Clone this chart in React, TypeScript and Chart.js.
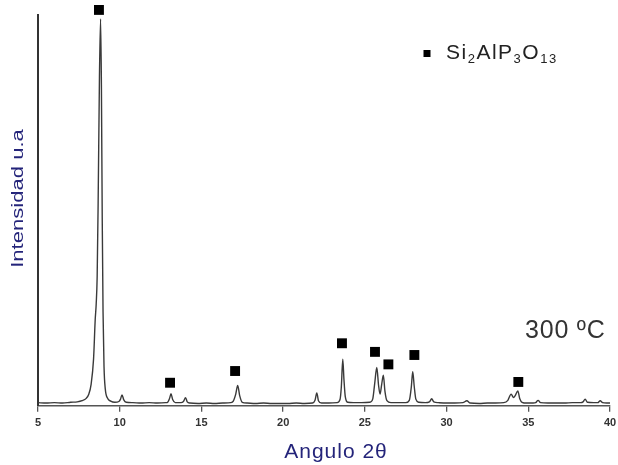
import React, { useEffect, useRef } from "react";
import { Chart, registerables } from "chart.js";

Chart.register(...registerables);

// 2θ angles of the diffractogram trace
const angles = [
  5.0, 5.5, 6.0, 6.5, 7.0, 7.4, 7.7, 7.95, 8.1, 8.25,
  8.4, 8.5, 8.56, 8.62, 8.68, 8.76, 8.83, 8.88, 8.93, 8.98,
  9.04, 9.12, 9.25, 9.45, 9.7, 9.95, 10.05, 10.14, 10.25, 10.4,
  10.8, 11.3, 11.8, 12.3, 12.8, 12.95, 13.05, 13.14, 13.24, 13.4,
  13.75, 13.9, 14.03, 14.13, 14.3, 14.8, 15.3, 15.8, 16.3, 16.8,
  16.95, 17.1, 17.22, 17.34, 17.5, 17.8, 18.3, 18.8, 19.3, 19.8,
  20.3, 20.8, 21.3, 21.8, 21.95, 22.06, 22.16, 22.35, 22.8, 23.3,
  23.48, 23.56, 23.65, 23.72, 23.8, 23.95, 24.3, 24.8, 25.3, 25.48,
  25.6, 25.73, 25.84, 25.93, 26.03, 26.13, 26.23, 26.35, 26.6, 27.0,
  27.5, 27.72, 27.84, 27.93, 28.02, 28.12, 28.3, 28.7, 28.95, 29.09,
  29.22, 29.5, 30.0, 30.5, 31.0, 31.24, 31.45, 32.0, 32.5, 33.0,
  33.5, 33.75, 33.95, 34.1, 34.2, 34.36, 34.48, 34.62, 34.9, 35.3,
  35.45, 35.6, 35.75, 36.2, 36.7, 37.2, 37.7, 38.2, 38.35, 38.48,
  38.62, 39.0, 39.25, 39.4, 39.55, 39.8, 40.0,
];

// intensity (arbitrary units) at each angle
const intensity = [
  0.8, 0.7, 0.8, 0.7, 0.9, 1.0, 1.3, 1.9, 2.9, 5.5,
  12, 22, 26, 33, 52, 84, 99, 82, 48, 24,
  10, 4.2, 2.0, 1.2, 0.9, 1.1, 1.7, 2.8, 1.5, 0.9,
  0.8, 0.7, 0.8, 0.7, 0.8, 1.0, 1.9, 3.1, 1.6, 0.8,
  0.8, 1.1, 2.1, 1.0, 0.7, 0.6, 0.7, 0.6, 0.7, 0.8,
  1.2, 3.0, 5.2, 2.6, 0.9, 0.7, 0.6, 0.7, 0.6, 0.6,
  0.6, 0.7, 0.6, 0.7, 1.4, 3.3, 1.3, 0.7, 0.7, 0.8,
  1.6, 4.8, 11.9, 6.8, 2.4, 0.9, 0.8, 0.8, 0.9, 1.7,
  5.6, 9.8, 5.2, 3.0, 5.5, 7.8, 3.7, 1.3, 0.8, 0.8,
  0.8, 1.4, 4.7, 8.7, 5.0, 1.7, 0.9, 0.8, 1.0, 1.8,
  1.0, 0.8, 0.7, 0.7, 0.8, 1.3, 0.7, 0.6, 0.7, 0.7,
  0.8, 1.4, 3.0, 2.1, 2.6, 3.8, 1.8, 0.9, 0.7, 0.7,
  0.8, 1.4, 0.8, 0.7, 0.7, 0.7, 0.8, 0.8, 1.0, 1.7,
  0.9, 0.8, 0.8, 1.3, 0.8, 0.7, 0.7,
];

// Si2AlP3O13 phase markers
const markerAngles = [8.73, 13.08, 17.06, 23.6, 25.62, 26.44, 28.03, 34.39];
const markerIntensity = [101.3, 5.9, 8.9, 16.0, 13.8, 10.6, 13.0, 6.1];

const xTicks = [5, 10, 15, 20, 25, 30, 35, 40];
const xTitle = "Angulo 2θ";
const yTitle = "Intensidad u.a";
const legendParts: [string, boolean][] = [
  ["Si", false], ["2", true], ["AlP", false], ["3", true], ["O", false], ["13", true],
];
const tempLabel = "300 ºC";

const titleColor = "#24247a";
const FONT = '"Liberation Sans", Arial, sans-serif';

const textPlugin = {
  id: "texts",
  afterDraw(chart: any) {
    const ctx = chart.ctx as CanvasRenderingContext2D;
    // y title (rotated, elongated)
    ctx.save();
    ctx.translate(23, 198.5);
    ctx.rotate(-Math.PI / 2);
    ctx.scale(1.38, 1);
    ctx.font = `16px ${FONT}`;
    ctx.fillStyle = titleColor;
    ctx.textAlign = "center";
    ctx.textBaseline = "alphabetic";
    ctx.fillText(yTitle, 0, 0);
    ctx.restore();

    // x title
    ctx.save();
    ctx.font = `21px ${FONT}`;
    (ctx as any).letterSpacing = "1px";
    ctx.fillStyle = titleColor;
    ctx.textAlign = "center";
    ctx.textBaseline = "alphabetic";
    ctx.fillText(xTitle, 336, 458);
    ctx.restore();

    // legend
    ctx.save();
    ctx.fillStyle = "#000";
    ctx.fillRect(423.5, 50, 7, 7);
    let x = 446;
    const base = 58.5;
    ctx.fillStyle = "#222";
    ctx.textBaseline = "alphabetic";
    ctx.textAlign = "left";
    (ctx as any).letterSpacing = "1.5px";
    for (const [t, sub] of legendParts) {
      ctx.font = sub ? `13px ${FONT}` : `21px ${FONT}`;
      const y = sub ? base + 4 : base;
      ctx.fillText(t, x, y);
      x += ctx.measureText(t).width;
    }
    ctx.restore();

    // temperature label
    ctx.save();
    ctx.font = `25px ${FONT}`;
    (ctx as any).letterSpacing = "0.8px";
    ctx.fillStyle = "#333";
    ctx.textAlign = "left";
    ctx.textBaseline = "alphabetic";
    ctx.fillText(tempLabel, 525, 338);
    ctx.restore();
  },
};

export default function App() {
  const ref = useRef<HTMLCanvasElement>(null);
  useEffect(() => {
    document.body.style.margin = "0";
    const canvas = ref.current!;
    const chart = new Chart(canvas, {
      type: "line",
      data: {
        datasets: [
          {
            type: "line",
            data: angles.map((a, i) => ({ x: a, y: intensity[i] })),
            borderColor: "#3a3a3a",
            borderWidth: 1.4,
            pointRadius: 0,
            cubicInterpolationMode: "monotone",
            fill: false,
          },
          {
            type: "scatter",
            data: markerAngles.map((a, i) => ({ x: a, y: markerIntensity[i] })),
            pointStyle: "rect",
            pointRadius: 7,
            pointBackgroundColor: "#000",
            pointBorderWidth: 0,
            borderColor: "#000",
            clip: false,
          } as any,
        ],
      },
      options: {
        responsive: false,
        animation: false,
        events: [],
        layout: { padding: { left: 30, right: 8, top: 15, bottom: 30 } },
        plugins: { legend: { display: false }, tooltip: { enabled: false } },
        scales: {
          x: {
            type: "linear",
            min: 5,
            max: 40,
            afterBuildTicks: (s: any) => {
              s.ticks = xTicks.map((v) => ({ value: v }));
            },
            afterFit: (s: any) => {
              s.paddingRight = 0;
              s.paddingLeft = 0;
            },
            grid: { display: true, drawOnChartArea: false, drawTicks: true, tickLength: 6, color: "#555", lineWidth: 1.3 },
            border: { display: true, color: "#555", width: 1.5 },
            ticks: {
              color: "#333",
              font: { size: 11, weight: "bold", family: FONT },
              padding: 5,
              maxRotation: 0,
              autoSkip: false,
            },
          },
          y: {
            min: 0,
            max: 100,
            grid: { display: false },
            border: { display: true, color: "#333", width: 2 },
            ticks: { display: false },
          },
        },
      },
      plugins: [textPlugin],
    });
    return () => chart.destroy();
  }, []);
  return (
    <div style={{ width: 618, height: 465 }}>
      <canvas ref={ref} width={618} height={465} style={{ display: "block" }} />
    </div>
  );
}
